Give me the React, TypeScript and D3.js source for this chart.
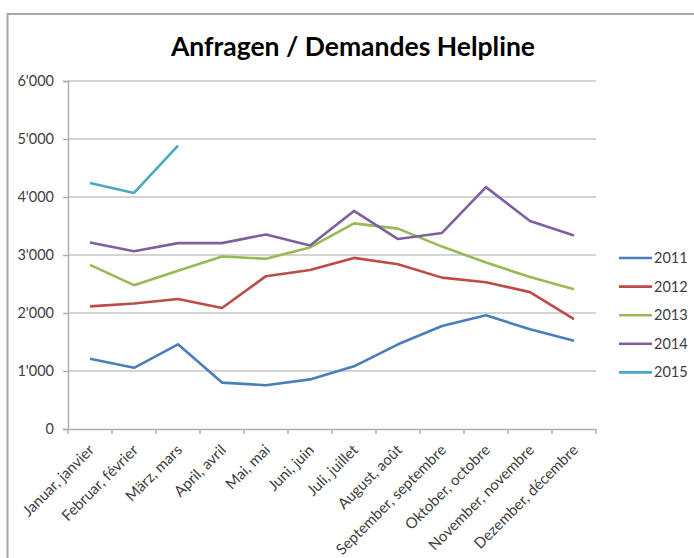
import { useEffect, useRef } from 'react';
import * as d3 from 'd3';

const months = [
  'Januar, janvier',
  'Februar, février',
  'März, mars',
  'April, avril',
  'Mai, mai',
  'Juni, juin',
  'Juli, juillet',
  'August, août',
  'September, septembre',
  'Oktober, octobre',
  'November, novembre',
  'Dezember, décembre',
];

const years = ['2011', '2012', '2013', '2014', '2015'];
const colors = ['#4a7ebb', '#be4b48', '#98b954', '#7d60a0', '#46aac5'];

const v2011 = [1210, 1055, 1460, 800, 755, 855, 1080, 1460, 1775, 1960, 1720, 1520];
const v2012 = [2115, 2165, 2240, 2085, 2635, 2740, 2950, 2840, 2610, 2530, 2360, 1895];
const v2013 = [2830, 2480, 2730, 2975, 2935, 3130, 3545, 3455, 3145, 2870, 2620, 2410];
const v2014 = [3215, 3065, 3205, 3205, 3355, 3165, 3760, 3275, 3380, 4170, 3585, 3335];
const v2015 = [4240, 4070, 4885];

const series = [v2011, v2012, v2013, v2014, v2015];
const yTicks = [0, 1000, 2000, 3000, 4000, 5000, 6000];

const App = () => {
  const svgRef = useRef<SVGSVGElement>(null);

  useEffect(() => {
    const svg = d3.select(svgRef.current);
    svg.selectAll('*').remove();

    const font = 'Lato, "Open Sans", sans-serif';
    const left = 68;
    const right = 596;
    const top = 81;
    const bottom = 429;

    // frame
    svg
      .append('rect')
      .attr('x', 7.5)
      .attr('y', 14)
      .attr('width', 720)
      .attr('height', 600)
      .attr('fill', '#fff')
      .attr('stroke', '#a6a6a6')
      .attr('stroke-width', 2);

    const x = d3.scaleBand().domain(months).range([left, right]);
    const y = d3.scaleLinear().domain([0, 6000]).range([bottom, top]);

    // gridlines
    svg
      .append('g')
      .selectAll('line')
      .data(yTicks.slice(1))
      .enter()
      .append('line')
      .attr('x1', left)
      .attr('x2', right)
      .attr('y1', (d) => y(d))
      .attr('y2', (d) => y(d))
      .attr('stroke', '#c6c6c6')
      .attr('stroke-width', 1.5);

    // y axis
    const yAxis = svg
      .append('g')
      .attr('transform', `translate(${left},0)`)
      .call(
        d3
          .axisLeft(y)
          .tickValues(yTicks)
          .tickSize(5)
          .tickPadding(9)
          .tickFormat((d) => d3.format(',')(d as number).replace(/,/g, "'"))
      );
    yAxis.select('.domain').attr('stroke', '#b0b0b0').attr('stroke-width', 1.5);
    yAxis.selectAll('.tick line').attr('stroke', '#b0b0b0').attr('stroke-width', 1.5);
    yAxis
      .selectAll('text')
      .style('font-family', font)
      .style('font-size', '14.5px')
      .attr('fill', '#404040');

    // x axis
    const xAxis = svg
      .append('g')
      .attr('transform', `translate(0,${bottom})`)
      .call(d3.axisBottom(x).tickSize(0).tickSizeOuter(0));
    xAxis.select('.domain').attr('stroke', '#b0b0b0').attr('stroke-width', 1.5);
    xAxis
      .append('g')
      .selectAll('line')
      .data(d3.range(months.length + 1))
      .enter()
      .append('line')
      .attr('x1', (i) => left + i * x.bandwidth())
      .attr('x2', (i) => left + i * x.bandwidth())
      .attr('y1', 0)
      .attr('y2', 5)
      .attr('stroke', '#b0b0b0')
      .attr('stroke-width', 1.5);
    xAxis
      .selectAll('.tick text')
      .style('font-family', font)
      .style('font-size', '15px')
      .attr('fill', '#404040')
      .attr('text-anchor', 'end')
      .attr('x', 0)
      .attr('y', 0)
      .attr('dy', '0')
      .attr('transform', 'translate(5,22) rotate(-45)');

    // lines
    const line = d3
      .line<number>()
      .x((_, i) => (x(months[i]) as number) + x.bandwidth() / 2)
      .y((d) => y(d));

    series.forEach((vals, k) => {
      svg
        .append('path')
        .datum(vals)
        .attr('d', line)
        .attr('fill', 'none')
        .attr('stroke', colors[k])
        .attr('stroke-width', 2.6)
        .attr('stroke-linejoin', 'round');
    });

    // legend
    const legend = svg.append('g');
    years.forEach((yr, k) => {
      const ly = 258 + k * 28.6;
      legend
        .append('line')
        .attr('x1', 619)
        .attr('x2', 652)
        .attr('y1', ly)
        .attr('y2', ly)
        .attr('stroke', colors[k])
        .attr('stroke-width', 2.6);
      legend
        .append('text')
        .attr('x', 654)
        .attr('y', ly + 5)
        .style('font-family', font)
        .style('font-size', '14.5px')
        .attr('fill', '#404040')
        .text(yr);
    });

    // title
    svg
      .append('text')
      .attr('x', 353)
      .attr('y', 56)
      .attr('text-anchor', 'middle')
      .style('font-family', font)
      .style('font-size', '26.5px')
      .style('font-weight', 'bold')
      .attr('fill', '#000')
      .text('Anfragen / Demandes Helpline');
  }, []);

  return (
    <svg
      ref={svgRef}
      width={694}
      height={558}
      style={{ position: 'absolute', left: 0, top: 0, background: '#fff' }}
    ></svg>
  );
};

export default App;
